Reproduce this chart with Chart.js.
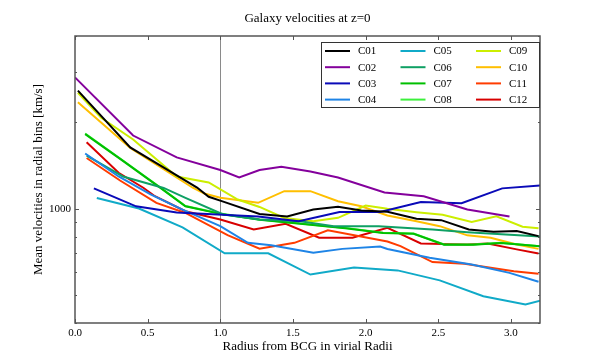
<!DOCTYPE html>
<html>
<head>
<meta charset="utf-8">
<script src="https://cdn.jsdelivr.net/npm/chart.js@4.4.1/dist/chart.umd.min.js"></script>
<style>
  html, body { margin: 0; padding: 0; background: #fff; }
  #wrap { width: 600px; height: 360px; position: relative; }
</style>
</head>
<body>
<div id="wrap"><canvas id="chart" width="600" height="360"></canvas></div>
<script>
const TITLE = 'Galaxy velocities at z=0';
const X_LABEL = 'Radius from BCG in virial Radii';
const Y_LABEL = 'Mean velocities in radial bins [km/s]';

const NAMES = ['C01', 'C02', 'C03', 'C04', 'C05', 'C06', 'C07', 'C08', 'C09', 'C10', 'C11', 'C12'];
const COLORS = ['#000000', '#84009c', '#0a0ab8', '#1e84e6', '#10aac8', '#0fa064',
                '#00bf00', '#3cf03c', '#ccee00', '#ffbf00', '#ff3c00', '#d80000'];

const X_TICKS = [0, 0.5, 1, 1.5, 2, 2.5, 3];
const Y_TICKS = [400, 500, 600, 700, 800, 900, 1000, 2000, 3000, 4000];
const Y_LABELED = [1000];
const R_VIRIAL = 1.0;

// radius / mean velocity pairs per cluster
const X_C01 = [0.02, 0.38, 0.84, 0.92, 1.01, 1.27, 1.46, 1.64, 1.81, 1.97, 2.15, 2.35, 2.52, 2.71, 2.88, 3.04, 3.19];
const V_C01 = [2580, 1636, 1186, 1101, 1063, 959, 940, 995, 1016, 986, 976, 923, 913, 847, 831, 836, 803];

const X_C02 = [0.0, 0.4, 0.7, 1.0, 1.13, 1.27, 1.42, 1.62, 1.81, 2.13, 2.40, 2.70, 2.99];
const V_C02 = [2870, 1800, 1510, 1365, 1285, 1365, 1400, 1349, 1285, 1140, 1106, 994, 940];

const X_C03 = [0.13, 0.42, 0.70, 0.98, 1.26, 1.54, 1.82, 2.10, 2.38, 2.66, 2.94, 3.22];
const V_C03 = [1178, 1020, 970, 955, 940, 905, 975, 975, 1055, 1045, 1178, 1208];

const X_C04 = [0.07, 0.30, 0.52, 0.74, 1.0, 1.19, 1.35, 1.64, 1.84, 2.10, 2.15, 2.44, 2.73, 2.99, 3.19];
const V_C04 = [1558, 1296, 1122, 994, 870, 761, 747, 703, 725, 739, 724, 675, 640, 598, 557];

const X_C05 = [0.15, 0.44, 0.74, 1.03, 1.33, 1.62, 1.92, 2.22, 2.51, 2.81, 3.10, 3.40];
const V_C05 = [1090, 1002, 862, 700, 700, 590, 624, 610, 563, 496, 464, 508];

const X_C06 = [0.08, 0.33, 0.61, 0.76, 1.02, 1.27, 1.55, 1.78, 2.09, 2.46, 2.70, 3.20];
const V_C06 = [1533, 1296, 1182, 1092, 955, 918, 905, 870, 870, 847, 829, 800];

const X_C07 = [0.07, 0.32, 0.59, 0.76, 1.0, 1.27, 1.62, 1.86, 2.12, 2.33, 2.54, 2.74, 2.93, 3.20];
const V_C07 = [1820, 1480, 1180, 1020, 960, 915, 880, 856, 823, 818, 750, 750, 760, 740];

const X_C08 = [0.07, 0.32, 0.59, 0.76, 1.0, 1.27, 1.62, 1.86, 2.12, 2.33, 2.54, 2.74, 2.93, 3.20];
const V_C08 = [1830, 1485, 1184, 1023, 963, 918, 882, 858, 825, 820, 751, 751, 762, 741];

const X_C09 = [0.02, 0.18, 0.40, 0.70, 0.92, 1.12, 1.27, 1.44, 1.64, 1.81, 2.00, 2.15, 2.35, 2.53, 2.73, 2.90, 3.08, 3.19];
const V_C09 = [2537, 2075, 1744, 1296, 1235, 1077, 1015, 929, 905, 930, 1027, 1000, 973, 953, 899, 942, 866, 856];

const X_C10 = [0.02, 0.38, 0.81, 0.89, 1.0, 1.26, 1.44, 1.62, 1.81, 1.97, 2.15, 2.35, 2.51, 2.70, 2.86, 3.04, 3.19];
const V_C10 = [2352, 1629, 1184, 1131, 1092, 1049, 1152, 1152, 1063, 1021, 948, 905, 870, 808, 792, 751, 725];

const X_C11 = [0.08, 0.31, 0.56, 0.76, 1.05, 1.27, 1.51, 1.74, 2.15, 2.24, 2.46, 2.68, 3.02, 3.19];
const V_C11 = [1503, 1255, 1049, 967, 810, 726, 761, 842, 769, 741, 652, 643, 606, 594];

const X_C12 = [0.08, 0.30, 0.47, 0.55, 0.76, 1.0, 1.23, 1.45, 1.68, 1.91, 2.15, 2.38, 2.70, 2.84, 3.04, 3.19];
const V_C12 = [1706, 1335, 1184, 1106, 981, 918, 847, 886, 793, 793, 858, 757, 751, 757, 722, 699];

const XS = [X_C01, X_C02, X_C03, X_C04, X_C05, X_C06, X_C07, X_C08, X_C09, X_C10, X_C11, X_C12];
const VS = [V_C01, V_C02, V_C03, V_C04, V_C05, V_C06, V_C07, V_C08, V_C09, V_C10, V_C11, V_C12];

const SERIF = '"Liberation Serif", "DejaVu Serif", serif';

const datasets = NAMES.map((name, i) => ({
  label: name,
  data: XS[i].map((x, j) => ({ x, y: VS[i][j] })),
  borderColor: COLORS[i],
  backgroundColor: COLORS[i],
  borderWidth: 2,
  pointRadius: 0,
  tension: 0,
  fill: false
}));

// frame, inward ticks, r_vir line, title and legend, drawn like matplotlib
const mplDecor = {
  id: 'mplDecor',
  beforeDatasetsDraw(chart) {
    const { ctx, chartArea: a, scales } = chart;
    const px = scales.x.getPixelForValue(R_VIRIAL);
    ctx.save();
    ctx.strokeStyle = '#8a8a8a';
    ctx.lineWidth = 1;
    ctx.beginPath();
    ctx.moveTo(Math.round(px) + 0.5, a.top);
    ctx.lineTo(Math.round(px) + 0.5, a.bottom);
    ctx.stroke();
    ctx.restore();
  },
  afterDraw(chart) {
    const { ctx, chartArea: a, scales } = chart;
    ctx.save();
    ctx.strokeStyle = '#555';
    ctx.lineWidth = 1;
    ctx.beginPath();
    X_TICKS.forEach(v => {
      const p = Math.round(scales.x.getPixelForValue(v)) + 0.5;
      ctx.moveTo(p, a.bottom); ctx.lineTo(p, a.bottom - 4);
      ctx.moveTo(p, a.top); ctx.lineTo(p, a.top + 4);
    });
    Y_TICKS.forEach(v => {
      const p = Math.round(scales.y.getPixelForValue(v)) + 0.5;
      const len = Y_LABELED.includes(v) ? 4 : 2;
      ctx.moveTo(a.left, p); ctx.lineTo(a.left + len, p);
      ctx.moveTo(a.right, p); ctx.lineTo(a.right - len, p);
    });
    ctx.stroke();

    ctx.lineWidth = 1.5;
    ctx.strokeRect(a.left, a.top, a.right - a.left, a.bottom - a.top);

    // title
    ctx.fillStyle = '#000';
    ctx.font = '13px ' + SERIF;
    ctx.textAlign = 'center';
    ctx.textBaseline = 'middle';
    ctx.fillText(TITLE, (a.left + a.right) / 2, 19);

    // legend, column-major like matplotlib ncol=3
    const bx = a.right - 219, by = a.top + 6, bw = 219, bh = 66;
    ctx.fillStyle = '#fff';
    ctx.fillRect(bx, by, bw, bh);
    ctx.strokeStyle = '#333';
    ctx.lineWidth = 1;
    ctx.strokeRect(bx + 0.5, by + 0.5, bw - 1, bh - 1);
    ctx.font = '11px ' + SERIF;
    ctx.textAlign = 'left';
    chart.data.datasets.forEach((ds, i) => {
      const col = Math.floor(i / 4), row = i % 4;
      const lx = bx + 4 + col * 75.5;
      const ly = by + 9 + row * 16.2;
      ctx.strokeStyle = ds.borderColor;
      ctx.lineWidth = 2;
      ctx.beginPath();
      ctx.moveTo(lx, ly); ctx.lineTo(lx + 25, ly);
      ctx.stroke();
      ctx.fillStyle = '#000';
      ctx.fillText(ds.label, lx + 33, ly + 0.5);
    });
    ctx.restore();
  }
};

new Chart(document.getElementById('chart'), {
  type: 'line',
  data: { datasets },
  plugins: [mplDecor],
  options: {
    responsive: false,
    animation: false,
    layout: { padding: { top: 36, right: 60, left: 0, bottom: 0 } },
    plugins: { legend: { display: false }, tooltip: { enabled: false }, title: { display: false } },
    scales: {
      x: {
        type: 'linear',
        min: 0,
        max: 3.2,
        grid: { display: false, drawTicks: false },
        border: { display: false },
        afterBuildTicks: (s) => { s.ticks = X_TICKS.map(v => ({ value: v })); },
        afterFit: (s) => { s.height = 37; },
        ticks: {
          padding: 4,
          color: '#000',
          font: { family: SERIF, size: 11 },
          callback: (v) => Number(v).toFixed(1)
        },
        title: { display: true, text: X_LABEL, color: '#000', font: { family: SERIF, size: 13 }, padding: { top: 0, bottom: 6 } }
      },
      y: {
        type: 'logarithmic',
        min: 400,
        max: 4000,
        grid: { display: false, drawTicks: false },
        border: { display: false },
        afterBuildTicks: (s) => { s.ticks = Y_TICKS.map(v => ({ value: v })); },
        afterFit: (s) => { s.width = 75; },
        ticks: {
          padding: 4,
          color: '#000',
          autoSkip: false,
          font: { family: SERIF, size: 11 },
          callback: (v) => Y_LABELED.includes(v) ? String(v) : ''
        },
        title: { display: true, text: Y_LABEL, color: '#000', font: { family: SERIF, size: 13 }, padding: { top: 31, bottom: 0 } }
      }
    }
  }
});
</script>
</body>
</html>
